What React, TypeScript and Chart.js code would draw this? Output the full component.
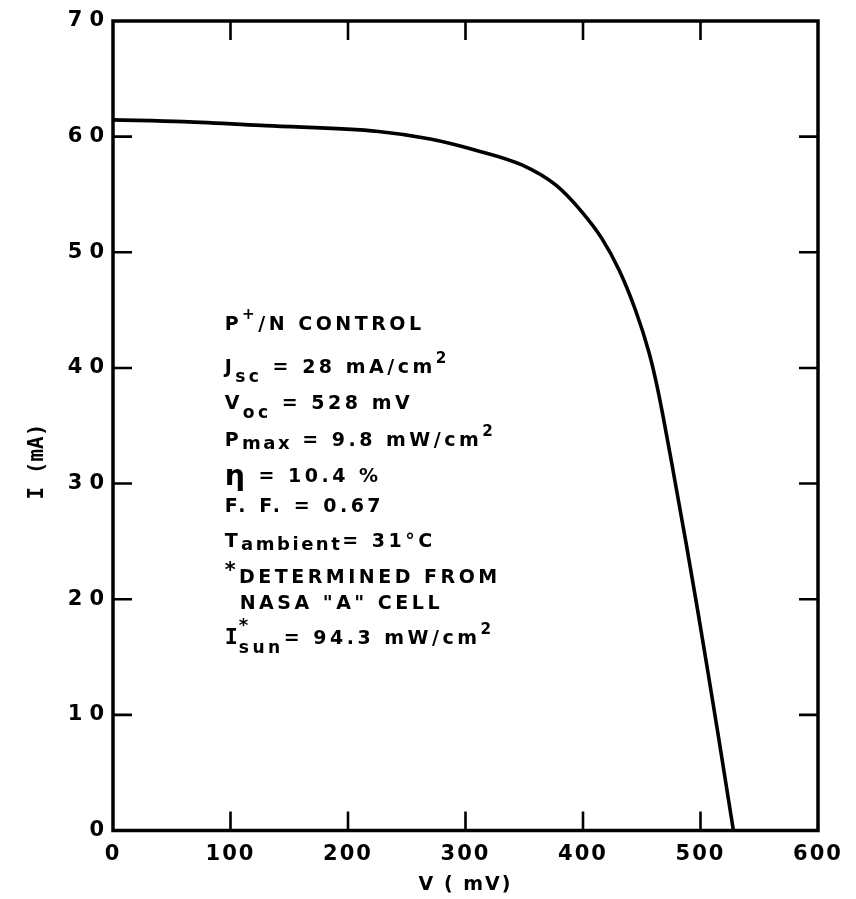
import React, { useEffect, useRef } from "react";
import { Chart, registerables } from "chart.js";

Chart.register(...registerables);

// ---- data ----
const VOLTAGE_MV = [0, 60, 130, 226, 270, 308, 348, 377, 399, 416, 431, 445, 456, 462, 468, 476, 488, 498, 506, 515, 528];
const CURRENT_MA = [61.45, 61.3, 60.95, 60.45, 59.8, 58.85, 57.55, 55.8, 53.5, 51.2, 48.4, 44.9, 41.4, 38.9, 35.9, 31.5, 24.7, 18.8, 13.9, 8.3, 0];

const X_TICKS = [0, 100, 200, 300, 400, 500, 600];
const Y_TICKS = [0, 10, 20, 30, 40, 50, 60, 70];

const X_TITLE = "V ( mV)";
const Y_TITLE = "I (mA)";

// annotation text (segments: [text, kind])
const NOTE_LINES: [string, string][][] = [
  [["P", ""], ["+", "sup"], ["/N CONTROL", ""]],
  [["J", ""], ["sc", "sub"], [" = 28 mA/cm", ""], ["2", "sup"]],
  [["V", ""], ["oc", "sub"], [" = 528 mV", ""]],
  [["P", ""], ["max", "low"], [" = 9.8 mW/cm", ""], ["2", "sup"]],
  [["η", "big"], [" = 10.4 %", ""]],
  [["F. F. = 0.67", ""]],
  [["T", ""], ["ambient", "low"], ["= 31°C", ""]],
  [["*", "star"], ["DETERMINED FROM", ""]],
  [["NASA \"A\" CELL", "indent"]],
  [["I", "mono"], ["*", "supStack"], ["sun", "sub"], ["= 94.3 mW/cm", ""], ["2", "sup"]],
];
const NOTE_ANCHOR_MV = 95;
const NOTE_ANCHOR_MA = 43.3;
const NOTE_LINE_OFFSETS = [0, 43.5, 79.5, 116.5, 152.5, 182.5, 217.5, 253.5, 279.5, 314.5];

const FONT = '"DejaVu Sans", sans-serif';
const MONO = '"DejaVu Sans Mono", monospace';

const decorPlugin = {
  id: "decor",
  beforeDraw(chart: any) {
    // y tick labels are drawn in the first layer
    chart.ctx.letterSpacing = "7px";
  },
  afterDatasetsDraw(chart: any) {
    // x tick labels / title are drawn after the datasets (z = 1)
    chart.ctx.letterSpacing = "2px";
  },
  afterDraw(chart: any) {
    const { ctx, chartArea, scales } = chart;
    const { left, right, top, bottom } = chartArea;
    const xs = scales.x;
    const ys = scales.y;
    ctx.save();
    ctx.strokeStyle = "#000";
    ctx.fillStyle = "#000";
    ctx.lineWidth = 3.5;
    ctx.strokeRect(left, top, right - left, bottom - top);

    // inward ticks
    const TL = 19;
    ctx.lineWidth = 2.6;
    ctx.beginPath();
    for (const v of X_TICKS) {
      if (v <= X_TICKS[0] || v >= X_TICKS[X_TICKS.length - 1]) continue;
      const px = xs.getPixelForValue(v);
      ctx.moveTo(px, bottom);
      ctx.lineTo(px, bottom - TL);
      ctx.moveTo(px, top);
      ctx.lineTo(px, top + TL);
    }
    for (const v of Y_TICKS) {
      if (v <= Y_TICKS[0] || v >= Y_TICKS[Y_TICKS.length - 1]) continue;
      const py = ys.getPixelForValue(v);
      ctx.moveTo(left, py);
      ctx.lineTo(left + TL, py);
      ctx.moveTo(right, py);
      ctx.lineTo(right - TL, py);
    }
    ctx.stroke();

    // y axis title
    ctx.save();
    ctx.letterSpacing = "0px";
    ctx.translate(38, ys.getPixelForValue(31.9));
    ctx.rotate(-Math.PI / 2);
    ctx.font = `bold 21px ${MONO}`;
    ctx.textAlign = "center";
    ctx.textBaseline = "middle";
    ctx.fillText(Y_TITLE, 0, 0);
    ctx.restore();

    // annotation block
    const size = 19;
    const x0 = xs.getPixelForValue(NOTE_ANCHOR_MV);
    const y0 = ys.getPixelForValue(NOTE_ANCHOR_MA);
    ctx.textAlign = "left";
    ctx.textBaseline = "alphabetic";
    NOTE_LINES.forEach((segs, i) => {
      let x = x0;
      const yb = y0 + NOTE_LINE_OFFSETS[i];
      let stackX = 0;
      for (const [t, kind] of segs) {
        let fs = size;
        let dy = 0;
        let fam = FONT;
        let ls = 3.5;
        let advance = true;
        if (kind === "sup") { fs = size * 0.8; dy = -size * 0.55; }
        if (kind === "sub") { fs = size * 0.9; dy = size * 0.45; }
        if (kind === "low") { fs = size * 0.95; dy = size * 0.15; ls = 2.5; }
        if (kind === "big") { fs = size * 1.5; dy = size * 0.15; }
        if (kind === "mono") { fam = MONO; fs = size * 1.15; ls = 1; }
        if (kind === "star") { fs = size * 1.1; dy = -size * 0.35; }
        if (kind === "supStack") { fs = size * 0.95; dy = -size * 0.7; advance = false; }
        if (kind === "indent") { x += 15; }
        ctx.font = `bold ${fs}px ${fam}`;
        ctx.letterSpacing = `${ls}px`;
        const drawX = kind === "sub" && stackX ? stackX : x;
        ctx.fillText(t, drawX, yb + dy);
        const w = ctx.measureText(t).width;
        if (advance) {
          x = drawX + w;
          stackX = 0;
        } else {
          stackX = x;
        }
      }
    });
    ctx.restore();
  },
};

export default function App() {
  const canvasRef = useRef<HTMLCanvasElement | null>(null);

  useEffect(() => {
    document.body.style.margin = "0";
    document.body.style.overflow = "hidden";
    const canvas = canvasRef.current;
    if (!canvas) return;
    const points = VOLTAGE_MV.map((v, i) => ({ x: v, y: CURRENT_MA[i] }));
    const chart = new Chart(canvas, {
      type: "line",
      data: {
        datasets: [
          {
            data: points,
            borderColor: "#000",
            borderWidth: 3.6,
            pointRadius: 0,
            fill: false,
            cubicInterpolationMode: "monotone",
          },
        ],
      },
      options: {
        animation: false,
        responsive: true,
        maintainAspectRatio: false,
        events: [],
        layout: { padding: { top: 21, right: 38, left: 0, bottom: 0 } },
        plugins: { legend: { display: false }, tooltip: { enabled: false } },
        scales: {
          x: {
            type: "linear",
            min: X_TICKS[0],
            max: X_TICKS[X_TICKS.length - 1],
            afterBuildTicks: (s: any) => {
              s.ticks = X_TICKS.map((v) => ({ value: v }));
            },
            afterFit: (s: any) => {
              s.height = 68.5;
            },
            grid: { display: false, drawTicks: false, z: 1 },
            border: { display: false },
            ticks: {
              z: 1,
              color: "#000",
              padding: 11,
              maxRotation: 0,
              font: { family: FONT, size: 21, weight: "bold" },
            },
            title: {
              display: true,
              text: X_TITLE,
              color: "#000",
              padding: { top: 0, bottom: 3 },
              font: { family: FONT, size: 19, weight: "bold" },
            },
          },
          y: {
            type: "linear",
            min: Y_TICKS[0],
            max: Y_TICKS[Y_TICKS.length - 1],
            afterBuildTicks: (s: any) => {
              s.ticks = Y_TICKS.map((v) => ({ value: v }));
            },
            afterFit: (s: any) => {
              s.width = 113;
            },
            grid: { display: false, drawTicks: false },
            border: { display: false },
            ticks: {
              color: "#000",
              padding: 2,
              font: { family: FONT, size: 21, weight: "bold" },
            },
          },
        },
      },
      plugins: [decorPlugin],
    } as any);
    return () => chart.destroy();
  }, []);

  return (
    <div style={{ position: "relative", width: "856px", height: "899px", background: "#fff" }}>
      <canvas ref={canvasRef} />
    </div>
  );
}
